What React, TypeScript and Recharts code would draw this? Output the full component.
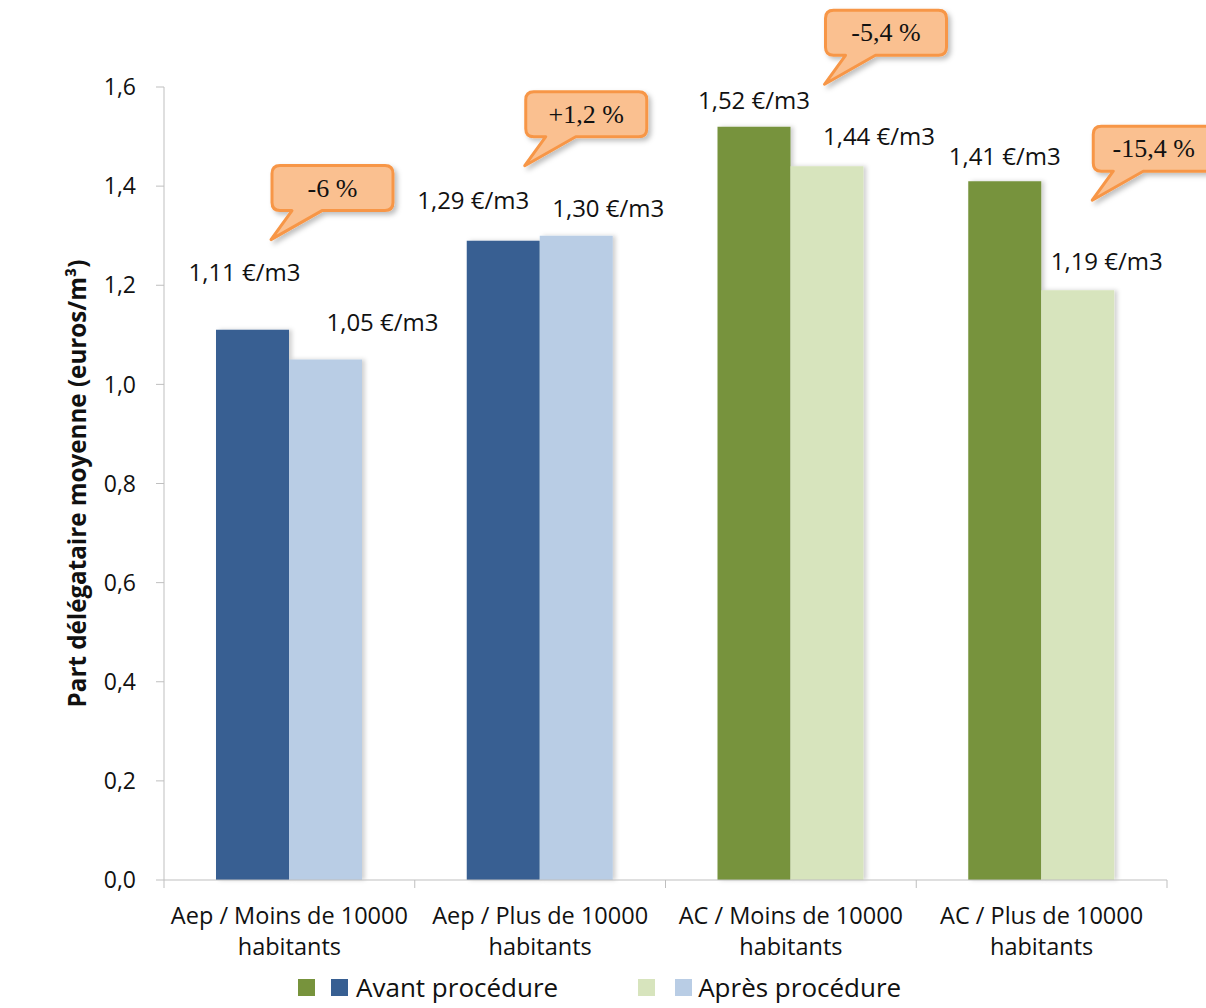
import { BarChart, Bar, XAxis, YAxis, Cell, LabelList, Label } from 'recharts'

const line1 = ['Aep / Moins de 10000', 'Aep / Plus de 10000', 'AC / Moins de 10000', 'AC / Plus de 10000']
const line2 = ['habitants', 'habitants', 'habitants', 'habitants']
const avant = [1.11, 1.29, 1.52, 1.41]
const apres = [1.05, 1.3, 1.44, 1.19]
const variations = ['-6 %', '+1,2 %', '-5,4 %', '-15,4 %']
const yTicks = [0, 0.2, 0.4, 0.6, 0.8, 1.0, 1.2, 1.4, 1.6]

// bar colours: eau potable (blue) vs assainissement (green)
const darkColors = ['#375f92', '#375f92', '#77933c', '#77933c']
const lightColors = ['#b9cde5', '#b9cde5', '#d7e4bd', '#d7e4bd']

// manual label placements (text centre relative to bar centre / top)
const avantLabelOffset = [[-8, -58], [-30, -41], [0, -27], [0, -26]]
const apresLabelOffset = [[57, -38], [32, -28], [52, -31], [29, -30]]
// callout tail tip relative to the "après" bar left / top
const calloutOffset = [[-18, -120], [-15, -70], [34, -82], [51, -90]]

const data = line1.map((c, i) => ({ cat: c, sub: line2[i], avant: avant[i], apres: apres[i] }))

const W = 1206
const H = 1008
const M = { top: 87, right: 39, bottom: 48, left: 64 }
const BAND = (W - M.left - M.right - 100) / data.length
const FONT = '"Open Sans", sans-serif'
const AXIS = '#bfbfbf'

const fmt = (v: number) => v.toFixed(2).replace('.', ',') + ' €/m3'

const XTick = ({ x, y, payload, index }: any) => {
  const half = BAND / 2
  return (
    <g>
      <line x1={x - half} x2={x - half} y1={y} y2={y + 8} stroke={AXIS} />
      {index === data.length - 1 && <line x1={x + half} x2={x + half} y1={y} y2={y + 8} stroke={AXIS} />}
      <text x={x} y={y + 44} textAnchor="middle" fontSize={23.5} fill="#111" fontFamily={FONT}>{payload.value}</text>
      <text x={x} y={y + 75} textAnchor="middle" fontSize={23.5} fill="#111" fontFamily={FONT}>{line2[index]}</text>
    </g>
  )
}

const valueLabel = (offsets: number[][]) => (props: any) => {
  const { x, y, width, value, index } = props
  const [dx, dy] = offsets[index]
  return (
    <text x={x + width / 2 + dx} y={y + dy} textAnchor="middle" dominantBaseline="central"
      fontSize={24} fill="#111" fontFamily={FONT}>{fmt(value)}</text>
  )
}

const Callout = (props: any) => {
  const { x, y, index } = props
  const tx = x + calloutOffset[index][0]
  const ty = y + calloutOffset[index][1]
  const L = tx + 1, B = ty - 29, w = 121, h = 45, r = 8
  const d = `M ${L + r} ${B - h} H ${L + w - r} Q ${L + w} ${B - h} ${L + w} ${B - h + r} V ${B - r} Q ${L + w} ${B} ${L + w - r} ${B} H ${L + 50} L ${tx} ${ty} L ${L + 20} ${B} H ${L + r} Q ${L} ${B} ${L} ${B - r} V ${B - h + r} Q ${L} ${B - h} ${L + r} ${B - h} Z`
  return (
    <g>
      <path d={d} fill="#fac090" stroke="#f79646" strokeWidth={3} strokeLinejoin="round" filter="url(#shadow)" />
      <text x={L + w / 2} y={B - h / 2} textAnchor="middle" dominantBaseline="central"
        fontSize={26} fill="#111" fontFamily='"Liberation Serif", serif'>{variations[index]}</text>
    </g>
  )
}

export default function App() {
  return (
    <div style={{ position: 'absolute', left: 0, top: 0, width: W, height: H, background: '#fff', overflow: 'hidden' }}>
      <BarChart width={W} height={H} data={data} margin={M} barGap={0} barSize={73}>
        <defs>
          <filter id="shadow" x="-20%" y="-20%" width="150%" height="150%">
            <feDropShadow dx={3} dy={3} stdDeviation={2.5} floodColor="#000" floodOpacity={0.25} />
          </filter>
          <filter id="barShadow" x="-10%" y="-5%" width="130%" height="110%">
            <feDropShadow dx={3} dy={0} stdDeviation={2} floodColor="#000" floodOpacity={0.18} />
          </filter>
        </defs>
        <XAxis dataKey="cat" axisLine={{ stroke: AXIS }} tickLine={false} tickSize={0} tickMargin={0}
          interval={0} height={80} tick={<XTick />} />
        <YAxis domain={[0, 1.6]} ticks={yTicks} width={100} axisLine={{ stroke: AXIS }}
          tickLine={{ stroke: AXIS }} tickSize={8} tickMargin={20}
          tickFormatter={(v: number) => v.toFixed(1).replace('.', ',')}
          tick={{ fontSize: 23, fill: '#111', fontFamily: FONT }}>
          <Label content={({ viewBox }: any) => {
            const cx = viewBox.x + 12
            const cy = viewBox.y + viewBox.height / 2
            return (
              <text x={cx} y={cy} transform={`rotate(-90 ${cx} ${cy})`} textAnchor="middle"
                dominantBaseline="central" fontSize={24.2} fontWeight={700} fill="#111" fontFamily={FONT}>
                Part délégataire moyenne (euros/m³)
              </text>
            )
          }} />
        </YAxis>
        <Bar dataKey="avant" isAnimationActive={false} filter="url(#barShadow)">
          {data.map((_, i) => <Cell key={i} fill={darkColors[i]} />)}
          <LabelList dataKey="avant" content={valueLabel(avantLabelOffset)} />
        </Bar>
        <Bar dataKey="apres" isAnimationActive={false} filter="url(#barShadow)">
          {data.map((_, i) => <Cell key={i} fill={lightColors[i]} />)}
          <LabelList dataKey="apres" content={valueLabel(apresLabelOffset)} />
          <LabelList dataKey="apres" content={<Callout />} />
        </Bar>
      </BarChart>
      <div style={{ position: 'absolute', top: 970, left: 298, display: 'flex', alignItems: 'center', fontFamily: FONT, fontSize: 26, lineHeight: '34px', color: '#111', whiteSpace: 'nowrap' }}>
        <span style={{ width: 17, height: 17, background: '#77933c', marginRight: 16 }} />
        <span style={{ width: 17, height: 17, background: '#375f92', marginRight: 8 }} />
        <span style={{ marginRight: 80 }}>Avant procédure</span>
        <span style={{ width: 17, height: 17, background: '#d7e4bd', marginRight: 20 }} />
        <span style={{ width: 17, height: 17, background: '#b9cde5', marginRight: 6 }} />
        <span>Après procédure</span>
      </div>
    </div>
  )
}
